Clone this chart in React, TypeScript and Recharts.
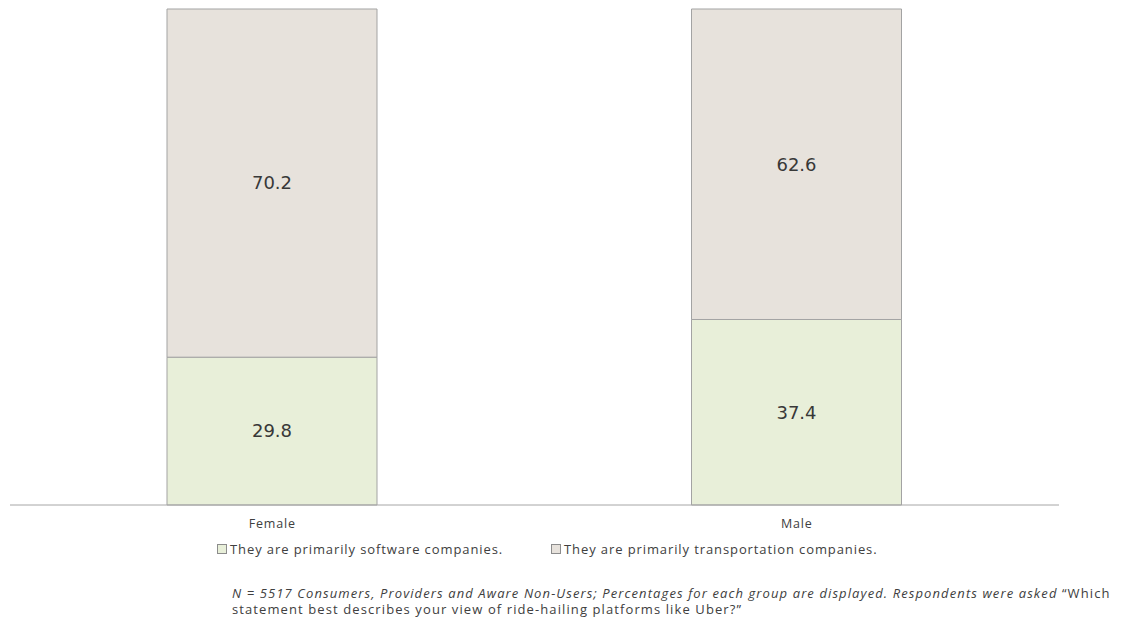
import React from "react";
import { BarChart, Bar, XAxis, YAxis, LabelList, Legend } from "recharts";

const groups = ["Female", "Male"];
const softwareShare = [29.8, 37.4];
const transportShare = [70.2, 62.6];
const seriesNames = [
  "They are primarily software companies.",
  "They are primarily transportation companies.",
];

const data = groups.map((g, i) => ({
  group: g,
  software: softwareShare[i],
  transport: transportShare[i],
}));

const softFill = "#e8efd9";
const transFill = "#e7e2dc";
const edge = "#a3a3a3";

const GroupTick = (props: any) => {
  const { x, y, payload } = props;
  return (
    <text
      x={x}
      y={y}
      dy={15}
      textAnchor="middle"
      fontSize={12.5}
      letterSpacing={0.8}
      fontFamily="'Open Sans', sans-serif"
      fill="#404040"
    >
      {payload.value}
    </text>
  );
};

const LegendBox = () => (
  <div
    style={{
      display: "flex",
      fontFamily: "'Open Sans', sans-serif",
      fontSize: 13,
      letterSpacing: 0.9,
      color: "#404040",
    }}
  >
    {seriesNames.map((name, i) => (
      <div
        key={name}
        style={{ display: "flex", alignItems: "center", width: i === 0 ? 334 : "auto" }}
      >
        <span
          style={{
            display: "inline-block",
            width: 8,
            height: 8,
            border: "1px solid #8c8c8c",
            background: i === 0 ? softFill : transFill,
            marginRight: 3,
          }}
        />
        {name}
      </div>
    ))}
  </div>
);

export default function App() {
  return (
    <div style={{ position: "relative", width: 1106, height: 616 }}>
      <BarChart
        width={1106}
        height={608}
        data={data}
        barSize={210}
        margin={{ top: 1, right: 55, left: 2, bottom: 69 }}
      >
        <XAxis
          dataKey="group"
          axisLine={{ stroke: "#a6a6a6" }}
          tickLine={false}
          tick={<GroupTick />}
          height={24}
          interval={0}
        />
        <YAxis hide domain={[0, 100]} />
        <Legend
          content={<LegendBox />}
          wrapperStyle={{ position: "absolute", left: 209, top: 532, width: 800 }}
        />
        <Bar
          dataKey="software"
          name={seriesNames[0]}
          stackId="s"
          fill={softFill}
          stroke={edge}
          isAnimationActive={false}
        >
          <LabelList
            dataKey="software"
            position="center"
            fill="#383838"
            fontSize={18}
            fontFamily="'DejaVu Sans', sans-serif"
          />
        </Bar>
        <Bar
          dataKey="transport"
          name={seriesNames[1]}
          stackId="s"
          fill={transFill}
          stroke={edge}
          isAnimationActive={false}
        >
          <LabelList
            dataKey="transport"
            position="center"
            fill="#383838"
            fontSize={18}
            fontFamily="'DejaVu Sans', sans-serif"
          />
        </Bar>
      </BarChart>
      <div
        style={{
          position: "absolute",
          left: 224,
          top: 577,
          fontFamily: "'Open Sans', sans-serif",
          fontSize: 13,
          letterSpacing: 1.1,
          color: "#404040",
          whiteSpace: "nowrap",
        }}
      >
        <div style={{ height: 16, lineHeight: "16px" }}>
          <i>
            N = 5517 Consumers, Providers and Aware Non-Users; Percentages for each group are
            displayed. Respondents were asked
          </i>{" "}
          “Which
        </div>
        <div style={{ height: 16, lineHeight: "16px" }}>
          statement best describes your view of ride-hailing platforms like Uber?”
        </div>
      </div>
    </div>
  );
}
